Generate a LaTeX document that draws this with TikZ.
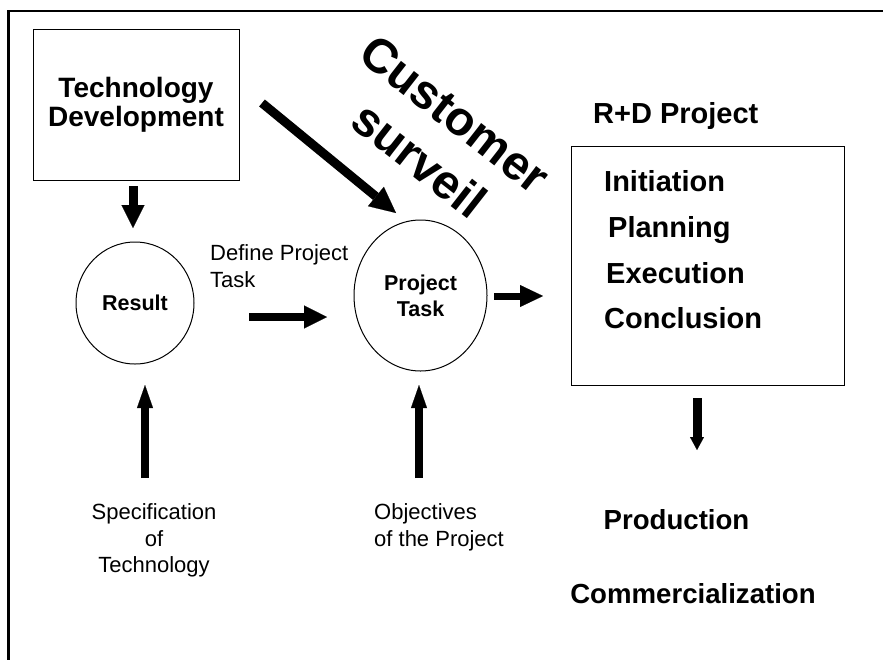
\documentclass[tikz,border=0pt]{standalone}
\usepackage{fontspec}
\setmainfont{Liberation Sans}
\usetikzlibrary{arrows.meta,shapes.geometric}
\newcommand{\fsz}[2]{\fontsize{#1}{#2}\selectfont}
\tikzset{
  frameline/.style={line width=2.7pt},
  thinbox/.style={draw, line width=1pt, inner sep=0pt},
  circ/.style={ellipse, draw, line width=1pt, inner sep=0pt},
  txt/.style={inner sep=0pt},
  barrow/.style n args={3}{line width=#1, -{Triangle[width=#2, length=#3, line width=0.1pt]}}
}
\begin{document}
\begin{tikzpicture}[x=1pt,y=-1pt]
\useasboundingbox (0,0) rectangle (883,659);
% frame
\coordinate (fbl) at (8.7,660);
\coordinate (ftl) at (8.7,11);
\coordinate (ftr) at (884,11);
\draw[frameline] (fbl) -- (ftl) -- (ftr);

% Technology Development box
\node[thinbox, minimum width=206pt, minimum height=151pt, align=center,
      font=\bfseries\fsz{28}{29}] (tech) at (136,104.5) {Technology\\Development};

% Result circle
\node[circ, minimum width=118pt, minimum height=122pt,
      font=\bfseries\fsz{21.5}{26}] (result) at (135,303) {Result};

% Project Task ellipse
\node[circ, minimum width=133pt, minimum height=151pt, align=center,
      font=\bfseries\fsz{21.5}{26}] (ptask) at (420.5,295.5) {Project\\Task};

% R+D box
\node[thinbox, minimum width=273pt, minimum height=239pt] (rd) at (707.5,265.5) {};
\node[txt, anchor=base west, font=\bfseries\fsz{29}{30}] (rdlabel) at (593,123) {R+D Project};
\node[txt, anchor=base west, font=\bfseries\fsz{29}{30}] (init) at (604,191) {Initiation};
\node[txt, anchor=base west, font=\bfseries\fsz{29}{30}] (plan) at (608,237) {Planning};
\node[txt, anchor=base west, font=\bfseries\fsz{29}{30}] (exec) at (606,283) {Execution};
\node[txt, anchor=base west, font=\bfseries\fsz{29}{30}] (concl) at (604,328) {Conclusion};

% Production / Commercialization
\node[txt, anchor=base, font=\bfseries\fsz{27.6}{30}] (prod) at (676.5,529) {Production};
\node[txt, anchor=base, font=\bfseries\fsz{27.6}{30}] (comm) at (693,603) {Commercialization};

% Regular labels
\node[txt, anchor=base west, font=\fsz{22}{27}] (def1) at (210,260) {Define Project};
\node[txt, anchor=base west, font=\fsz{22}{27}] (def2) at (210,287) {Task};
\node[txt, anchor=base, font=\fsz{22}{27}] (spec1) at (154,519) {Specification};
\node[txt, anchor=base, font=\fsz{22}{27}] (spec2) at (154,546) {of};
\node[txt, anchor=base, font=\fsz{22}{27}] (spec3) at (154,572) {Technology};
\node[txt, anchor=base west, font=\fsz{22}{27}] (obj1) at (374,519) {Objectives};
\node[txt, anchor=base west, font=\fsz{22}{27}] (obj2) at (374,546) {of the Project};

% Customer surveil
\node[txt, rotate=-38, align=center, font=\bfseries\fsz{48}{58}] (cust) at (437,137) {Customer\\surveil};

% Arrows
\coordinate (a1s) at (133,186);  \coordinate (a1e) at (133,228);
\draw[barrow={9pt}{23pt}{23pt}] (a1s) -- (a1e);
\coordinate (a2s) at (249,317);  \coordinate (a2e) at (327,317);
\draw[barrow={8pt}{23pt}{23pt}] (a2s) -- (a2e);
\coordinate (a3s) at (494,296);  \coordinate (a3e) at (543,296);
\draw[barrow={7pt}{22pt}{23pt}] (a3s) -- (a3e);
\coordinate (a4s) at (262,103);  \coordinate (a4e) at (396,213);
\draw[barrow={9pt}{25pt}{26pt}] (a4s) -- (a4e);
\coordinate (a5s) at (145,478);  \coordinate (a5e) at (145,385);
\draw[barrow={8.5pt}{16pt}{23pt}] (a5s) -- (a5e);
\coordinate (a6s) at (419,478);  \coordinate (a6e) at (419,385);
\draw[barrow={8.5pt}{16pt}{23pt}] (a6s) -- (a6e);
\coordinate (a7s) at (697,398);  \coordinate (a7e) at (697,450);
\draw[barrow={9pt}{14pt}{13pt}] (a7s) -- (a7e);
\end{tikzpicture}
\end{document}
